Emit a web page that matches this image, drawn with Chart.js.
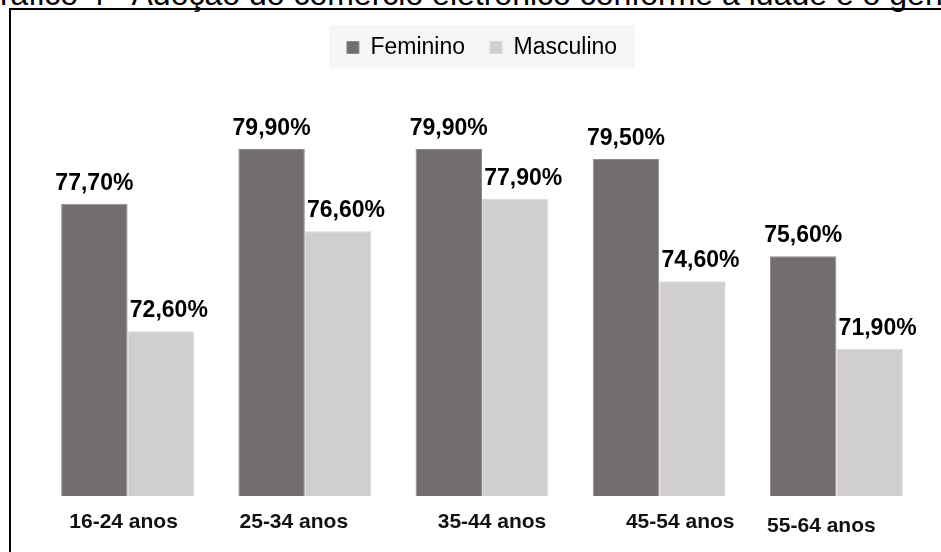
<!DOCTYPE html>
<html>
<head>
<meta charset="utf-8">
<script src="https://cdn.jsdelivr.net/npm/chart.js@4.4.0/dist/chart.umd.min.js"></script>
<style>
  html, body { margin: 0; padding: 0; background: #fff; overflow: hidden; }
  #wrap { position: relative; width: 941px; height: 552px; overflow: hidden; }
  #title {
    position: absolute; left: -25px; top: -22px;
    font: 32px "Liberation Sans", Arial, sans-serif; line-height: 32px;
    white-space: nowrap; color: #000;
  }
  #frame {
    position: absolute; left: 9px; top: 8px; width: 1000px; height: 600px;
    border-left: 2px solid #000; border-top: 2px solid #000;
  }
  #chart-box { position: absolute; left: 0; top: 0; width: 941px; height: 552px; }
</style>
</head>
<body>
<div id="wrap">
  <div id="title">Gráfico 4 - Adoção do comércio eletrônico conforme a idade e o gênero</div>
  <div id="frame"></div>
  <div id="chart-box"><canvas id="chart"></canvas></div>
</div>
<script>
const ageGroups = ["16-24 anos", "25-34 anos", "35-44 anos", "45-54 anos", "55-64 anos"];
const feminino = [77.7, 79.9, 79.9, 79.5, 75.6];
const masculino = [72.6, 76.6, 77.9, 74.6, 71.9];

// label nudges, the category labels in the source are not centred
const catShiftX = [-4, -11, 10, 21, -15];
const catShiftY = [0, 0, 0, 0, 4];
const valueShiftX = [0, 8];

const FONT = '"Liberation Sans", Arial, sans-serif';

function fmt(v) {
  return v.toFixed(2).replace(".", ",") + "%";
}

const legendBackground = {
  id: "legendBackground",
  beforeDraw(chart) {
    const boxes = chart.legend && chart.legend.legendHitBoxes;
    if (!boxes || !boxes.length) return;
    const first = boxes[0];
    const last = boxes[boxes.length - 1];
    const cy = first.top + first.height / 2;
    const left = first.left - 18;
    const ctx = chart.ctx;
    ctx.save();
    ctx.fillStyle = "#f6f6f6";
    ctx.fillRect(left, cy - 22, last.left + last.width + 18 - left, 43);
    ctx.restore();
  },
};

const barLabels = {
  id: "barLabels",
  afterDatasetsDraw(chart) {
    const ctx = chart.ctx;
    ctx.save();
    ctx.fillStyle = "#000";
    ctx.textAlign = "center";
    ctx.textBaseline = "alphabetic";
    ctx.font = "bold 23px " + FONT;
    chart.data.datasets.forEach((ds, di) => {
      chart.getDatasetMeta(di).data.forEach((bar, i) => {
        ctx.fillText(fmt(ds.data[i]), bar.x + valueShiftX[di], bar.y - 14);
      });
    });
    // category labels under the groups
    const x = chart.scales.x;
    ctx.font = "bold 21px " + FONT;
    ctx.fillStyle = "#111";
    ageGroups.forEach((lab, i) => {
      ctx.fillText(lab, x.getPixelForValue(i) + catShiftX[i], 528 + catShiftY[i]);
    });
    ctx.restore();
  },
};

new Chart(document.getElementById("chart").getContext("2d"), {
  type: "bar",
  data: {
    labels: ageGroups,
    datasets: [
      {
        label: "Feminino",
        data: feminino,
        backgroundColor: "#736e6d",
        borderColor: "#8f8a89",
        borderWidth: 1,
        categoryPercentage: 0.75,
        barPercentage: 1,
      },
      {
        label: "Masculino",
        data: masculino,
        backgroundColor: "#d0cecf",
        borderColor: "#dad8d9",
        borderWidth: 1,
        categoryPercentage: 0.75,
        barPercentage: 1,
      },
    ],
  },
  options: {
    responsive: true,
    maintainAspectRatio: false,
    animation: false,
    layout: { padding: { left: 39, right: 16, top: 11, bottom: 56 } },
    plugins: {
      legend: {
        position: "top",
        labels: {
          boxWidth: 12,
          boxHeight: 12,
          padding: 25,
          color: "#000",
          font: { family: FONT, size: 23 },
        },
      },
      tooltip: { enabled: false },
    },
    scales: {
      x: { display: false, grid: { display: false } },
      y: { display: false, min: 66, max: 83.1, grid: { display: false } },
    },
  },
  plugins: [legendBackground, barLabels],
});
</script>
</body>
</html>
